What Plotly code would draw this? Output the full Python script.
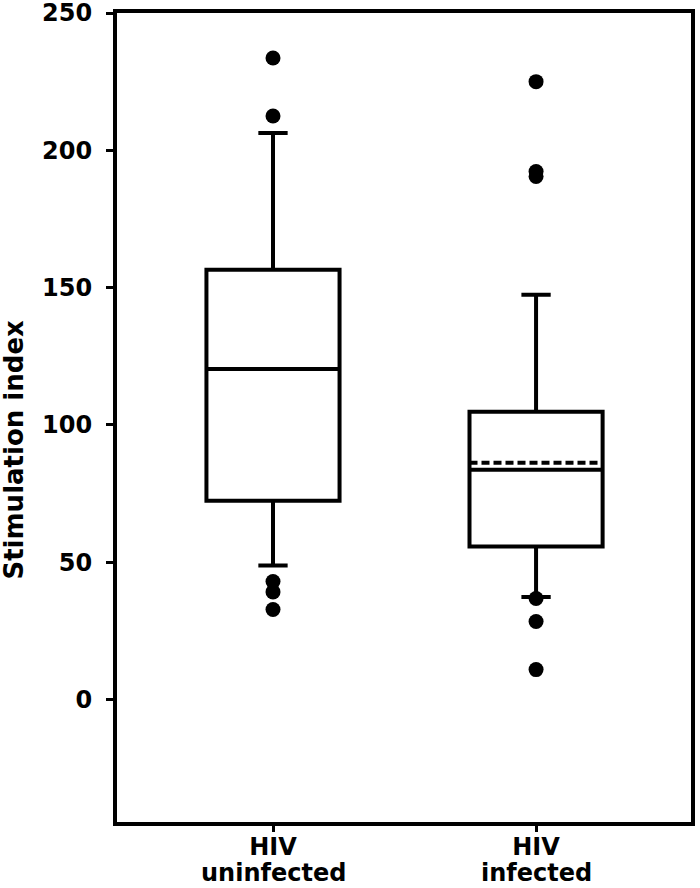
import plotly.graph_objects as go

group_line1 = ["HIV", "HIV"]
group_line2 = ["uninfected", "infected"]
positions = [0, 1]
q1 = [72.4, 55.7]
median = [120.4, 83.7]
q3 = [156.5, 104.8]
lower_whisker = [48.8, 37.3]
upper_whisker = [206.3, 147.4]
mean_infected = 86.2
outliers_uninfected = [233.6, 212.5, 43.0, 39.2, 32.8]
outliers_infected = [225.0, 192.3, 190.5, 36.8, 28.4, 10.9]

y_ticks = [0, 50, 100, 150, 200, 250]
y_title = "Stimulation index"

BOX_W = 0.506
LW = 4
BLACK = "black"
FONT = "DejaVu Sans"
XFONT = dict(family=FONT, size=24, weight="bold", color=BLACK)

fig = go.Figure()

fig.add_trace(go.Box(
    x=[positions[0]], q1=[q1[0]], median=[median[0]], q3=[q3[0]],
    lowerfence=[lower_whisker[0]], upperfence=[upper_whisker[0]],
    width=BOX_W, whiskerwidth=0.22,
    fillcolor="white", line=dict(color=BLACK, width=LW),
    boxpoints=False, showlegend=False, hoverinfo="skip",
))
fig.add_trace(go.Box(
    x=[positions[1]], q1=[q1[1]], median=[median[1]], q3=[q3[1]],
    lowerfence=[lower_whisker[1]], upperfence=[upper_whisker[1]],
    mean=[mean_infected], boxmean=True,
    width=BOX_W, whiskerwidth=0.22,
    fillcolor="white", line=dict(color=BLACK, width=LW),
    boxpoints=False, showlegend=False, hoverinfo="skip",
))

fig.add_trace(go.Scatter(
    x=[positions[0]] * len(outliers_uninfected), y=outliers_uninfected,
    mode="markers", marker=dict(color=BLACK, size=15),
    showlegend=False, hoverinfo="skip",
))
fig.add_trace(go.Scatter(
    x=[positions[1]] * len(outliers_infected), y=outliers_infected,
    mode="markers", marker=dict(color=BLACK, size=15),
    showlegend=False, hoverinfo="skip",
))

annotations = [dict(
    text=y_title, textangle=-90,
    xref="paper", yref="paper", x=0, y=0.4604,
    xanchor="center", yanchor="middle", xshift=-103, showarrow=False,
    font=dict(family=FONT, size=26, weight="bold", color=BLACK),
)]
for pos, line2 in zip(positions, group_line2):
    annotations.append(dict(
        text=line2, xref="x", yref="paper", x=pos, y=0,
        xanchor="center", yanchor="bottom", yshift=-66, borderpad=0,
        showarrow=False, font=XFONT,
    ))

fig.update_layout(
    width=700, height=888,
    margin=dict(l=117, r=9, t=13, b=66),
    paper_bgcolor="white", plot_bgcolor="white",
    font=dict(family=FONT, color=BLACK),
    annotations=annotations,
)
fig.update_xaxes(
    range=[-0.593, 1.589], automargin=False,
    tickvals=positions, ticktext=group_line1,
    tickfont=XFONT,
    ticks="outside", ticklen=6, tickwidth=3, tickcolor=BLACK,
    ticklabelstandoff=-6, ticklabeloverflow="allow",
    showline=True, linecolor=BLACK, linewidth=4, mirror=True,
    showgrid=False, zeroline=False,
)
fig.update_yaxes(
    range=[-44.6, 250], automargin=False,
    tickvals=y_ticks,
    tickfont=dict(family=FONT, size=24, weight="bold", color=BLACK),
    ticks="outside", ticklen=7, tickwidth=3, tickcolor=BLACK,
    ticklabelstandoff=9, ticklabeloverflow="allow",
    showline=True, linecolor=BLACK, linewidth=4, mirror=True,
    showgrid=False, zeroline=False,
)

fig.write_html("out.html", config={"displayModeBar": False},
               post_script="document.body.style.margin='0';")
